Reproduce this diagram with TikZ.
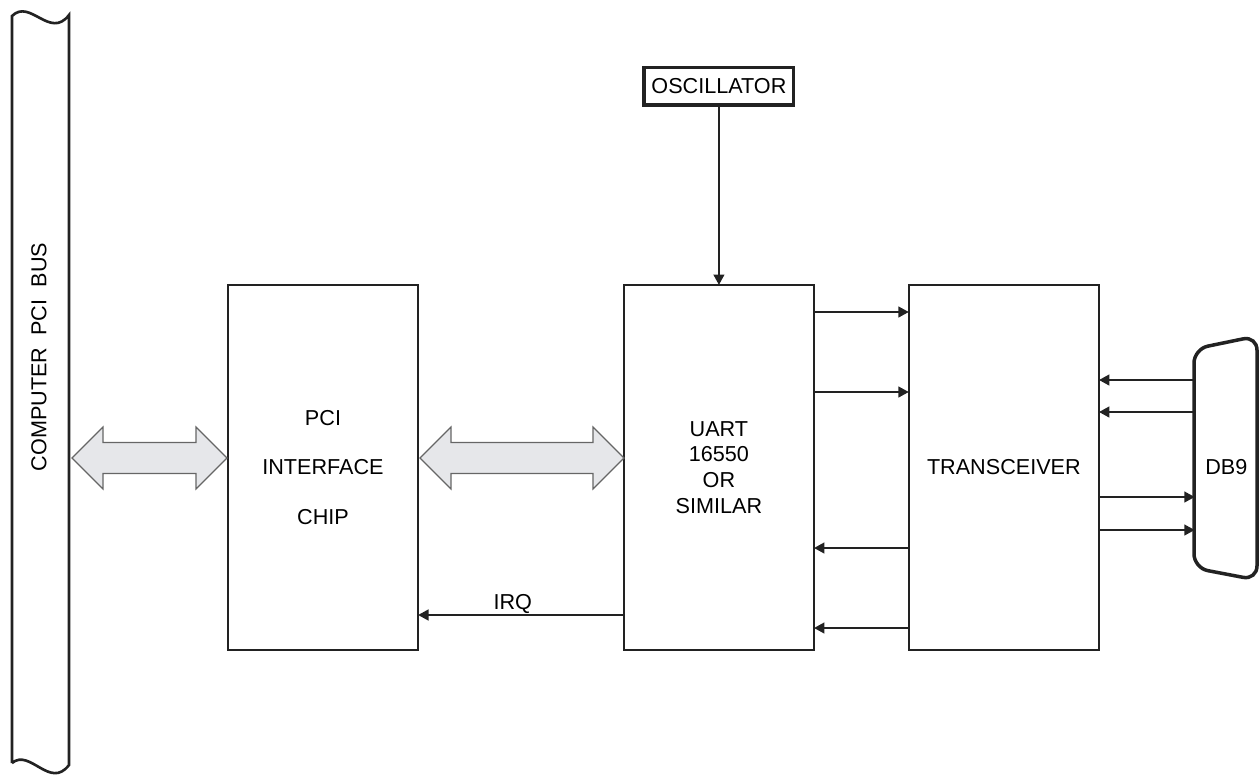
\documentclass[tikz,border=0pt]{standalone}
\usepackage{fontspec}
\setmainfont{Liberation Sans}
\usetikzlibrary{arrows.meta, positioning, calc}

\definecolor{linegray}{HTML}{222222}
\definecolor{arrowfill}{HTML}{E6E7EA}

% fat two-headed bus arrow: left x, right x, centre y (pixel units)
\newcommand{\fatarrow}[3]{%
  \filldraw[fatarr] (#1,#3) -- ({#1+31},{#3-31}) -- ({#1+31},{#3-15.5})
    -- ({#2-31},{#3-15.5}) -- ({#2-31},{#3-31}) -- (#2,#3)
    -- ({#2-31},{#3+31}) -- ({#2-31},{#3+15.5}) -- ({#1+31},{#3+15.5})
    -- ({#1+31},{#3+31}) -- cycle;}

\begin{document}
\begin{tikzpicture}[
  x=0.02cm, y=-0.02cm,
  block/.style={rectangle, draw=linegray, line width=1.5pt, inner sep=0pt,
                outer sep=0pt, minimum width=3.8cm, minimum height=7.3cm,
                align=center, font=\fontsize{12.3}{14.7}\selectfont},
  osc/.style={rectangle, draw=linegray, line width=1.8pt, inner sep=0pt,
              outer sep=0pt, minimum width=3cm, minimum height=0.76cm,
              font=\fontsize{12.3}{14}\selectfont},
  lbl/.style={inner sep=1pt, outer sep=0pt, font=\fontsize{12.3}{14}\selectfont},
  arr/.style={-{Triangle[length=6pt, width=6pt]}, line width=1.5pt, draw=linegray},
  fatarr/.style={fill=arrowfill, draw=black!60, line width=0.7pt},
  outline/.style={draw=linegray, line width=1.5pt}
]
\useasboundingbox (0,0) rectangle (1259,775);

% computer bus
\draw[outline] (12,763) -- (12,16) .. controls (30,-2) and (50,40) .. (69,15)
  -- (69,765) .. controls (50,790) and (30,748) .. (12,763);
\node[lbl, rotate=90] (bus) at (39,357) {COMPUTER\ \ PCI\ \ BUS};

% blocks
\node[block, font=\fontsize{12.3}{28}\selectfont] (pci) at (323,467.5) {PCI\\INTERFACE\\CHIP};
\node[block, right=4.12cm of pci] (uart) {UART\\16550\\OR\\SIMILAR};
\node[block, right=1.9cm of uart] (trx) {TRANSCEIVER};
\node[osc, above=3.6cm of uart] (osc) {OSCILLATOR};
\node[lbl, right=1.92cm of trx, minimum width=1.26cm, minimum height=4.6cm] (db9) {DB9};
\draw[outline, line width=2pt, rounded corners=8pt]
  (1194,568) -- (1194,349) -- (1257,336) -- (1257,580) -- cycle;

% bus arrows
\fatarrow{72}{227}{458}
\fatarrow{420}{624}{458}

% signals
\draw[arr] (osc) -- (uart);
\draw[arr] (uart.west |- 0,615) -- node[lbl, above, pos=0.54] (irq) {IRQ} (pci.east |- 0,615);
\foreach \y in {312,392}
  \draw[arr] (uart.east |- 0,\y) -- (trx.west |- 0,\y);
\foreach \y in {548,628}
  \draw[arr] (trx.west |- 0,\y) -- (uart.east |- 0,\y);
\foreach \y in {380,412}
  \draw[arr] (db9.west |- 0,\y) -- (trx.east |- 0,\y);
\foreach \y in {497,530}
  \draw[arr] (trx.east |- 0,\y) -- (db9.west |- 0,\y);
\end{tikzpicture}
\end{document}
